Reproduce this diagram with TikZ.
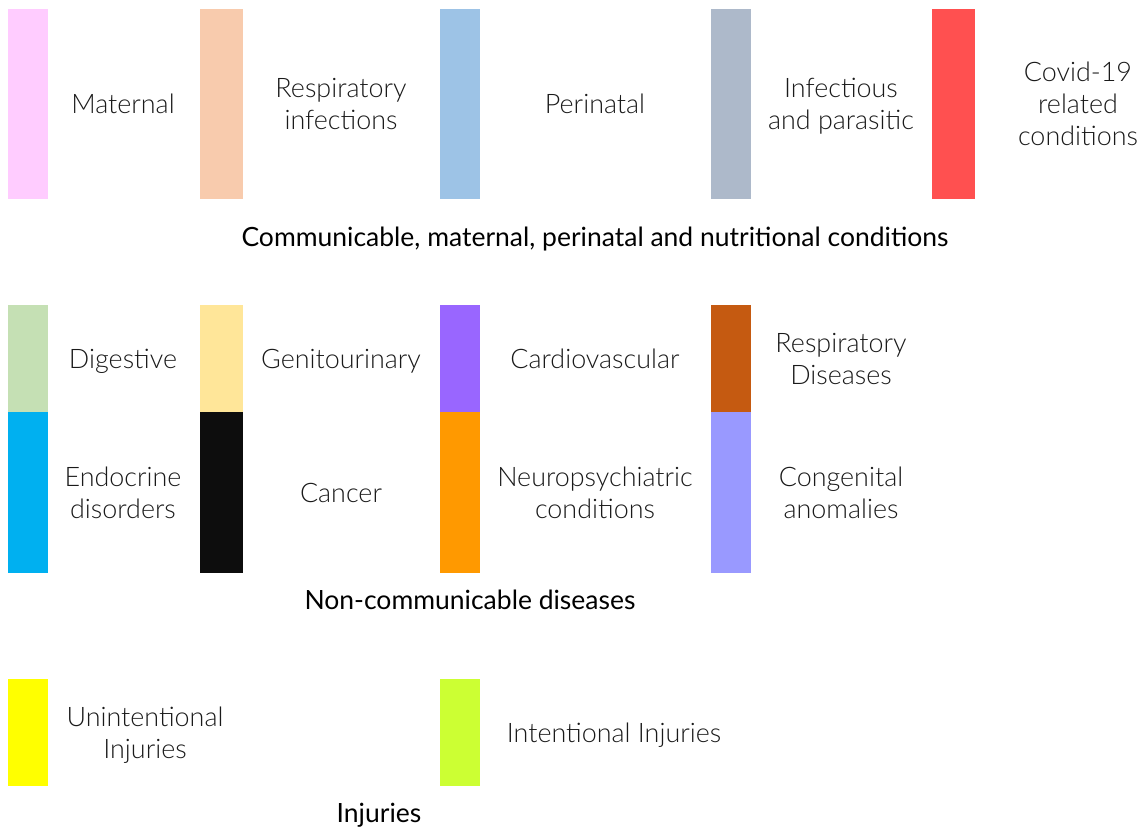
\documentclass[tikz,border=0pt]{standalone}
\usepackage{fontspec}
\setmainfont{Lato}
\newfontfamily\lightfont{Lato Light}
\definecolor{cPink}{HTML}{FFCCFF}
\definecolor{cPeach}{HTML}{F8CBAD}
\definecolor{cBlue}{HTML}{9DC3E6}
\definecolor{cGrey}{HTML}{ADB9CA}
\definecolor{cRed}{HTML}{FF5050}
\definecolor{cDig}{HTML}{C5E0B4}
\definecolor{cGen}{HTML}{FFE699}
\definecolor{cCard}{HTML}{9966FF}
\definecolor{cResp}{HTML}{C55A11}
\definecolor{cEndo}{HTML}{00B0F0}
\definecolor{cCanc}{HTML}{0D0D0D}
\definecolor{cNeur}{HTML}{FF9900}
\definecolor{cCong}{HTML}{9999FF}
\definecolor{cUnin}{HTML}{FFFF00}
\definecolor{cInte}{HTML}{CCFF33}
\definecolor{cText}{HTML}{1A1A1A}
\newcommand{\mystrut}{\rule[-6pt]{0pt}{31pt}}
\tikzset{
  item/.style={align=center, font=\lightfont\fontsize{27}{32}\selectfont, text=cText, inner sep=0pt,
    execute at begin node=\mystrut, execute at end node=\mystrut},
  multi/.style={item, yshift=-3bp},
  heading/.style={align=center, font=\fontsize{26.6}{32}\selectfont, text=black, inner sep=0pt,
    execute at begin node=\mystrut, execute at end node=\mystrut},
}
\begin{document}
\begin{tikzpicture}[x=1bp,y=-1bp]
\useasboundingbox (0,0) rectangle (1145,829);
% row 1
\fill[cPink]  (8,9) rectangle (48,199);
\fill[cPeach] (200,9) rectangle (243,199);
\fill[cBlue]  (440,9) rectangle (480,199);
\fill[cGrey]  (711,9) rectangle (751,199);
\fill[cRed]   (932,9) rectangle (975,199);
\node[item] (maternal) at (123,104) {Maternal};
\node[multi] (respinf) at (341,104) {Respiratory\\infections};
\node[item] (perinatal) at (595,104) {Perinatal};
\node[multi] (infect) at (841,104) {Infectious\\and parasitic};
\node[multi] (covid) at (1078,104) {Covid-19\\related\\conditions};
\node[heading] (cmpn) at (595,237) {Communicable, maternal, perinatal and nutritional conditions};
% row 2
\fill[cDig]  (8,305) rectangle (48,412);
\fill[cGen]  (200,305) rectangle (243,412);
\fill[cCard] (440,305) rectangle (480,412);
\fill[cResp] (711,305) rectangle (751,412);
\fill[cEndo] (8,412) rectangle (48,573);
\fill[cCanc] (200,412) rectangle (243,573);
\fill[cNeur] (440,412) rectangle (480,573);
\fill[cCong] (711,412) rectangle (751,573);
\node[item] (digestive) at (123,359) {Digestive};
\node[item] (genito) at (341,359) {Genitourinary};
\node[item] (cardio) at (595,359) {Cardiovascular};
\node[multi] (respdis) at (841,359) {Respiratory\\Diseases};
\node[multi] (endo) at (123,493) {Endocrine\\disorders};
\node[item] (cancer) at (341,493) {Cancer};
\node[multi] (neuro) at (595,493) {Neuropsychiatric\\conditions};
\node[multi] (cong) at (841,493) {Congenital\\anomalies};
\node[heading] (ncd) at (470,600) {Non-communicable diseases};
% row 3
\fill[cUnin] (8,679) rectangle (48,786);
\fill[cInte] (440,679) rectangle (480,786);
\node[multi] (unint) at (145,733) {Unintentional\\Injuries};
\node[item] (intent) at (614,733) {Intentional Injuries};
\node[heading] (inj) at (379,813) {Injuries};
\end{tikzpicture}
\end{document}
